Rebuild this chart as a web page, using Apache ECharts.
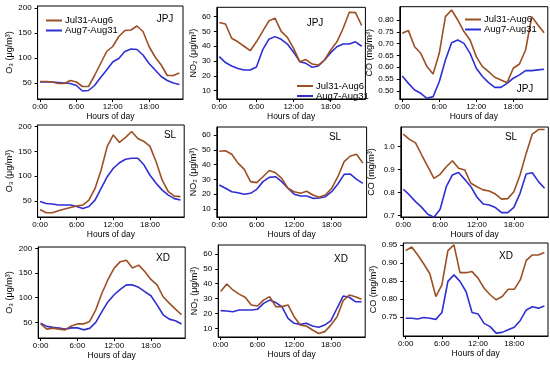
<!DOCTYPE html>
<html><head><meta charset="utf-8">
<script src="https://cdn.jsdelivr.net/npm/echarts@6/dist/echarts.min.js"></script>
<style>html,body{margin:0;padding:0;background:#fff}#c{width:550px;height:367px}</style>
</head><body><div id="c"></div>
<script>
// ---- data ----
const hours = [0,1,2,3,4,5,6,7,8,9,10,11,12,13,14,15,16,17,18,19,20,21,22,23];
const seriesNames = ['Jul31-Aug6', 'Aug7-Aug31'];
const stations = ['JPJ', 'SL', 'XD'];

const o3_JPJ_jul = [53,53,52,49,49,55,52,43,43,65,89,113,123,143,155,156,164,153,123,102,86,65,65,70];
const o3_JPJ_aug = [52,52,52,51,50,49,45,34,35,45,61,76,92,99,113,118,117,106,89,76,63,55,50,47];
const no2_JPJ_jul = [56,55,45.4,43,40,37,43,50,57,59,50,46,38.6,29.6,31,28,27.3,30.7,37.5,43,52,63,62.7,54];
const no2_JPJ_aug = [33,29,26.7,25,24,24,26,37.5,44.7,46.5,44.7,41.5,36,29.6,28.5,25.8,26.7,30.7,35.7,39.7,41.5,41.5,43,40];
const co_JPJ_jul = [0.744,0.755,0.687,0.659,0.603,0.572,0.659,0.814,0.842,0.800,0.751,0.715,0.645,0.603,0.582,0.558,0.546,0.535,0.596,0.614,0.673,0.814,0.779,0.746];
const co_JPJ_aug = [0.563,0.532,0.504,0.490,0.469,0.476,0.539,0.631,0.704,0.715,0.701,0.659,0.596,0.561,0.535,0.515,0.515,0.532,0.554,0.568,0.586,0.586,0.589,0.592];

const o3_SL_jul = [33,26.5,26.5,30.5,34,37,40,42,52,75.5,112.5,160,183,168,178,190,176,170,160,129,92,69,60,59];
const o3_SL_aug = [49,45,44,42,42,42,39,35,39,52,75.5,99,116,127,134,136,136,123,102,86,72,62,55,52];
const no2_SL_jul = [49,49.4,47,41,36.8,28.5,27.8,31.8,36,34.5,30.7,24,21.7,20.6,22,19.5,17.9,19.5,24,31.8,42,45.8,47,41];
const no2_SL_aug = [26.2,24,21.7,21,20,20.6,23.3,28.5,31.4,31.8,28.5,24,20,18.8,18.8,17.2,17.4,18.3,21.7,26.9,33.4,33.6,30,27.3];
const co_SL_jul = [1.055,1.032,1.017,0.964,0.913,0.862,0.880,0.913,0.939,0.906,0.899,0.841,0.826,0.812,0.807,0.794,0.772,0.774,0.804,0.877,0.971,1.055,1.075,1.075];
const co_SL_aug = [0.815,0.790,0.761,0.736,0.706,0.693,0.728,0.826,0.877,0.888,0.858,0.826,0.780,0.751,0.746,0.735,0.713,0.713,0.736,0.797,0.881,0.887,0.848,0.819];

const o3_XD_jul = [47,36.5,38.5,36.5,35,43,47,47,52,75.5,109,137,160,173,176,160,166,153,137,126,102,89,77,65.5];
const o3_XD_aug = [48.7,42,40,38.6,36.5,39,39,35,38,50,72,92,106,117,126,126,121,112.5,104,85.6,65.5,56.7,53.4,47];
const no2_XD_jul = [34.7,39.8,35.8,33,30.9,25.7,25,29,31.3,24.6,24.6,25.7,17.8,12.2,11.6,8.9,6.6,7.8,12.2,17.8,28.6,32.4,31.3,29.5];
const no2_XD_aug = [21.9,21.7,21.2,22.3,22.3,22.3,22.8,26.8,29,27.3,24.6,16.7,13.4,12.7,13.4,11.6,10.7,12.2,15.2,23.5,31.7,30.9,27.9,27.9];
const co_XD_jul = [0.934,0.944,0.922,0.897,0.870,0.807,0.839,0.934,0.950,0.873,0.873,0.876,0.858,0.830,0.812,0.798,0.807,0.827,0.827,0.853,0.907,0.922,0.922,0.929];
const co_XD_aug = [0.747,0.747,0.745,0.749,0.747,0.744,0.763,0.849,0.867,0.849,0.821,0.763,0.759,0.733,0.724,0.706,0.708,0.715,0.722,0.741,0.770,0.779,0.775,0.781];

const xTicks = [0, 6, 12, 18];
const o3Ticks = [50, 100, 150, 200];
const no2Ticks = [10, 20, 30, 40, 50, 60];
const coJPJTicks = [0.50, 0.55, 0.60, 0.65, 0.70, 0.75, 0.80];
const coSLTicks = [0.7, 0.8, 0.9, 1.0];
const coXDTicks = [0.75, 0.80, 0.85, 0.90, 0.95];

const o3Title = 'O₃ (μg/m³)';
const no2Title = 'NO₂ (μg/m³)';
const coTitle = 'CO (mg/m³)';
const xTitle = 'Hours of day';

// ---- panels (layout in px) ----
const panels = [
  {d:[o3_JPJ_jul,o3_JPJ_aug], ticks:o3Ticks, dec:0, name:o3Title, yr:[18,204], g:[37.6,6,145.4,93], gap:24, st:stations[0], sp:[165,19]},
  {d:[no2_JPJ_jul,no2_JPJ_aug], ticks:no2Ticks, dec:0, name:no2Title, yr:[4.4,66.3], g:[216.8,7.3,148.6,91.7], gap:17, st:stations[0], sp:[315,23]},
  {d:[co_JPJ_jul,co_JPJ_aug], ticks:coJPJTicks, dec:2, name:coTitle, yr:[0.466,0.856], g:[399.8,6.7,148,92.3], gap:25, st:stations[0], sp:[525,89]},
  {d:[o3_SL_jul,o3_SL_aug], ticks:o3Ticks, dec:0, name:o3Title, yr:[18,203], g:[37.6,125,146.6,92], gap:24, st:stations[1], sp:[170,135]},
  {d:[no2_SL_jul,no2_SL_aug], ticks:no2Ticks, dec:0, name:no2Title, yr:[4.6,65.4], g:[216.8,127,149.8,90], gap:17, st:stations[1], sp:[335,137]},
  {d:[co_SL_jul,co_SL_aug], ticks:coSLTicks, dec:1, name:coTitle, yr:[0.694,1.086], g:[400.8,127,147.5,90], gap:25, st:stations[1], sp:[511,137]},
  {d:[o3_XD_jul,o3_XD_aug], ticks:o3Ticks, dec:0, name:o3Title, yr:[18.5,202.7], g:[38.2,247,147,91], gap:24, st:stations[2], sp:[163,258]},
  {d:[no2_XD_jul,no2_XD_aug], ticks:no2Ticks, dec:0, name:no2Title, yr:[4.2,66], g:[218.2,245,147,92], gap:18, st:stations[2], sp:[341,259]},
  {d:[co_XD_jul,co_XD_aug], ticks:coXDTicks, dec:2, name:coTitle, yr:[0.698,0.955], g:[403.3,243,144.7,93], gap:25, st:stations[2], sp:[506,256]}
];

const colors = ['#9c4f24', '#2f2fd2'];
const narrow = '"Liberation Sans Narrow", "Liberation Sans", Arial, sans-serif';
const axisFont = {fontFamily: narrow, fontSize: 8, color: '#000'};

const grid = [], xAxis = [], yAxis = [], series = [], graphic = [];
panels.forEach((p, i) => {
  grid.push({left: p.g[0], top: p.g[1], width: p.g[2], height: p.g[3], show: true,
    borderColor: '#000', borderWidth: 1, backgroundColor: 'transparent', containLabel: false});
  xAxis.push({type: 'value', gridIndex: i, min: -0.4, max: 23.6,
    axisLine: {show: true, onZero: false, lineStyle: {color: '#000', width: 1}},
    axisTick: {show: true, length: 3, inside: false, customValues: xTicks, lineStyle: {color: '#000'}},
    axisLabel: {customValues: xTicks, margin: 4, formatter: v => v + ':00', ...axisFont},
    splitLine: {show: false},
    name: xTitle, nameLocation: 'middle', nameGap: 13, nameTextStyle: {...axisFont, fontSize: 8.5}});
  yAxis.push({type: 'value', gridIndex: i, min: p.yr[0], max: p.yr[1],
    axisLine: {show: true, onZero: false, lineStyle: {color: '#000', width: 1}},
    axisTick: {show: true, length: 3, customValues: p.ticks, lineStyle: {color: '#000'}},
    axisLabel: {customValues: p.ticks, margin: 6, formatter: v => v.toFixed(p.dec), ...axisFont},
    splitLine: {show: false},
    name: p.name, nameLocation: 'middle', nameRotate: 90, nameGap: p.gap, nameTextStyle: {...axisFont, fontSize: 9}});
  p.d.forEach((arr, k) => {
    series.push({type: 'line', name: seriesNames[k], xAxisIndex: i, yAxisIndex: i,
      data: hours.map((h, j) => [h, arr[j]]), showSymbol: false, symbol: 'none',
      lineStyle: {color: colors[k], width: 1.6}, itemStyle: {color: colors[k]},
      animation: false, z: 3 - k});
  });
  graphic.push({type: 'text', x: p.sp[0], y: p.sp[1],
    style: {text: p.st, fontFamily: narrow, fontSize: 10, fill: '#000', textAlign: 'center', textVerticalAlign: 'middle'}});
});

const legendBase = {orient: 'vertical', icon: 'rect', itemWidth: 16, itemHeight: 2, itemGap: 0,
  data: seriesNames, selectedMode: false,
  textStyle: {fontFamily: '"Liberation Sans", Arial, sans-serif', fontSize: 9.5, color: '#000', lineHeight: 8.5, padding: [0, 0, 0, -2]}};
const legend = [
  {...legendBase, left: 41, top: 10.5},
  {...legendBase, left: 292, top: 76, textStyle: {...legendBase.textStyle, lineHeight: 9}},
  {...legendBase, left: 460, top: 9.5, textStyle: {...legendBase.textStyle, lineHeight: 9}}
];

const chart = echarts.init(document.getElementById('c'), null, {renderer: 'canvas'});
chart.setOption({backgroundColor: '#fff', animation: false, grid, xAxis, yAxis, series, legend, graphic});
</script>
</body></html>
